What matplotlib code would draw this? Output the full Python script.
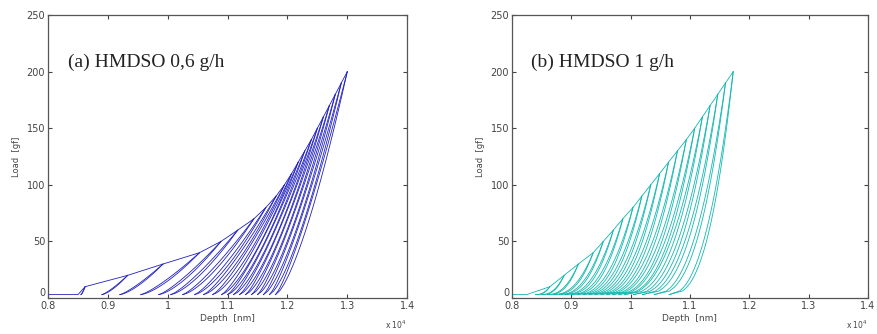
import matplotlib
matplotlib.use('Agg')
import matplotlib.pyplot as plt
import numpy as np

# cyclic indentation, loads 10..200 gf, depth in nm
peak_load = [10, 20, 30, 40, 50, 60, 70, 80, 90, 100,
             110, 120, 130, 140, 150, 160, 170, 180, 190, 200]

# (a) HMDSO 0,6 g/h
a_start_depth = [8000, 8500]
a_start_load = [3, 3]
a_peak_depth = [8620, 9330, 9920, 10530, 10890, 11170, 11440, 11640, 11810, 11950,
                12070, 12180, 12290, 12400, 12500, 12600, 12700, 12800, 12900, 13000]
a_resid_depth = [8550, 8900, 9200, 9550, 9850, 10050, 10250, 10450, 10600, 10750,
                 10900, 11000, 11100, 11200, 11300, 11400, 11500, 11600, 11700, 11800]
a_exp = 1.25

# (b) HMDSO 1 g/h
b_start_depth = [8000, 8250]
b_start_load = [3, 3]
b_peak_depth = [8640, 8880, 9120, 9370, 9540, 9710, 9870, 10040, 10190, 10340,
                10490, 10640, 10790, 10940, 11080, 11210, 11340, 11470, 11600, 11730]
b_resid_depth = [8400, 8500, 8600, 8700, 8800, 8900, 9000, 9100, 9200, 9300,
                 9400, 9500, 9600, 9700, 9800, 9900, 10050, 10200, 10400, 10650]
b_exp = 2.3

min_load = 3

xticks = [8000, 9000, 10000, 11000, 12000, 13000, 14000]
xtick_labels = ['0.8', '0.9', '1', '1.1', '1.2', '1.3', '1.4']
yticks = [0, 50, 100, 150, 200, 250]


def draw_panel(ax, start_d, start_p, peak_d, resid_d, m, color, label):
    # virgin loading envelope through the peaks
    ax.plot(list(start_d) + list(peak_d), list(start_p) + peak_load, color=color, lw=0.6)
    for hmax, pmax, hr in zip(peak_d, peak_load, resid_d):
        frac = np.linspace(0, 1, 60)
        p = min_load + (pmax - min_load) * frac
        unload = hr + (hmax - hr) * frac ** (1.0 / m)
        reload = hr + (hmax - hr) * frac ** (1.0 / (m * 1.15))
        ax.plot(unload, p, color=color, lw=0.6)
        ax.plot(reload, p, color=color, lw=0.6)

    ax.set_xlim(8000, 14000)
    ax.set_ylim(0, 250)
    ax.set_xticks(xticks)
    ax.set_xticklabels(xtick_labels, fontsize=7, color='#444444')
    ax.set_yticks(yticks)
    ax.set_yticklabels([str(v) for v in yticks], fontsize=7, color='#444444')
    ax.get_yticklabels()[0].set_va('bottom')
    ax.tick_params(direction='in', length=3, width=0.8, top=True, right=True,
                   pad=2, colors='#444444')
    for s in ax.spines.values():
        s.set_color('#555555')
        s.set_linewidth(0.9)
    ax.set_xlabel('Depth  [nm]', fontsize=6.5, color='#444444', labelpad=2)
    ax.set_ylabel('Load  [gf]', fontsize=6, color='#444444', labelpad=4)
    ax.text(8330, 204, label, fontsize=14, family='Liberation Serif', color='#222222')
    ax.text(1.0, -0.095, r'x 10$^4$', transform=ax.transAxes, fontsize=5.5,
            color='#444444', ha='right', va='center')


fig = plt.figure(figsize=(8.78, 3.34), dpi=100)
ax1 = fig.add_axes([0.0547, 0.1078, 0.409, 0.847])
ax2 = fig.add_axes([0.583, 0.1078, 0.4055, 0.847])

draw_panel(ax1, a_start_depth, a_start_load, a_peak_depth, a_resid_depth, a_exp,
           '#2020c0', '(a) HMDSO 0,6 g/h')
draw_panel(ax2, b_start_depth, b_start_load, b_peak_depth, b_resid_depth, b_exp,
           '#10b8b0', '(b) HMDSO 1 g/h')

fig.savefig('out.png', dpi=100)
